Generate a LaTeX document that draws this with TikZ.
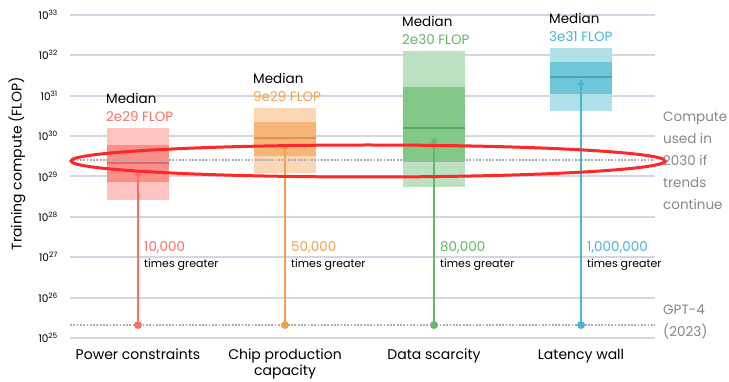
\documentclass[tikz,border=0pt]{standalone}
\usepackage{fontspec}
\setmainfont{Poppins}
\usetikzlibrary{arrows.meta}
\definecolor{cpow}{RGB}{250,112,105}
\definecolor{cchip}{RGB}{245,160,80}
\definecolor{cdata}{RGB}{96,184,104}
\definecolor{clat}{RGB}{72,182,206}
\definecolor{gridc}{RGB}{208,216,228}
\definecolor{greyt}{RGB}{135,135,135}
\definecolor{ringc}{RGB}{255,40,40}
\begin{document}
\begin{tikzpicture}[x=1pt,y=-1pt,
  gridl/.style={gridc,line width=2pt},
  trend/.style={gray!65,line width=1.5pt,dash pattern=on 1.8pt off 1.5pt},
  dot/.style={circle,inner sep=0pt,minimum size=8pt},
  txt/.style={inner sep=0pt,anchor=base west,font=\fontsize{13.5}{15}\selectfont},
  small/.style={inner sep=0pt,anchor=base west,font=\fontsize{11}{12}\selectfont},
  side/.style={inner sep=0pt,anchor=base west,align=left,text=greyt,font=\fontsize{13.5}{22}\selectfont}]
\useasboundingbox (0,0) rectangle (729,382);
\fill[white] (0,0) rectangle (729,382);
\node[rotate=90,inner sep=0pt,font=\fontsize{14}{16}\selectfont] (ytitle) at (17,164) {Training compute (FLOP)};
\foreach \e in {25,...,33} {\draw[gridl] (70,{338-(\e-25)*40.4})--(655,{338-(\e-25)*40.4});
  \node[anchor=east,inner sep=0pt,font=\fontsize{10.5}{11}\selectfont] (t\e) at (58,{338-(\e-25)*40.4}) {10\textsuperscript{\e}};}
\foreach \n/\c/\xa/\xb/\oa/\ob/\ia/\ib/\m in {pow/cpow/107/169/128/200/145/182/163,chip/cchip/254/316/108/173/122/156/138,
  data/cdata/403/465/51/187/87/162/128,lat/clat/550/612/48/111/62/94/77}
  {\fill[\c!42!white] (\xa,\oa) rectangle (\xb,\ob);
   \fill[\c!78!white] (\xa,\ia) rectangle (\xb,\ib);
   \draw[\c!92!black,line width=1.2pt] (\xa,\m)--(\xb,\m);}
\coordinate (g0) at (70,160);\coordinate (g1) at (655,160);\draw[trend] (g0)--(g1);
\coordinate (h0) at (70,325);\coordinate (h1) at (655,325);\draw[trend] (h0)--(h1);
\foreach \n/\c/\x/\t/\oa/\v/\val in {pow/cpow/138/170/128/2e29/10{,}000,chip/cchip/285/143/108/9e29/50{,}000,
  data/cdata/434/137/51/2e30/80{,}000,lat/clat/581/79/48/3e31/1{,}000{,}000}
  {\node[dot,fill=\c] (\n0) at (\x,325) {};\coordinate (\n1) at (\x,\t);
   \draw[-{Triangle[length=6pt,width=6pt]},\c,line width=1.5pt] (\n0)--(\n1);
   \node[txt] (\n m) at (\x-32,\oa-24) {Median};
   \node[txt,text=\c] (\n v) at (\x-32,\oa-6) {\v{} FLOP};
   \node[txt,text=\c] (\n k) at (\x+6,252) {\val};
   \node[small] (\n g) at (\x+6,268) {times greater};}
\foreach \n/\x/\lab in {pow/138/Power constraints,chip/285/{Chip production\\capacity},data/434/Data scarcity,lat/581/Latency wall}
  {\node[anchor=north,align=center,inner sep=0pt,font=\fontsize{14}{16}\selectfont] (\n c) at (\x,349) {\lab};}
\node[side] (trendtxt) at (663,210) {Compute\\used in\\2030 if\\trends\\continue};
\node[side] (gpttxt) at (663,337) {GPT-4\\(2023)};
\draw[ringc,line width=3pt] (368,161) ellipse [x radius=297pt,y radius=16pt];
\end{tikzpicture}
\end{document}
